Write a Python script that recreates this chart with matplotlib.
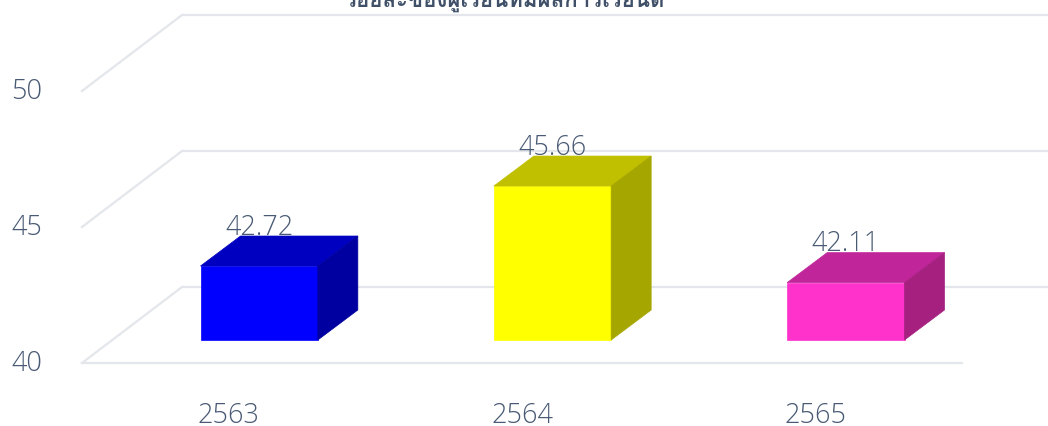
import matplotlib
matplotlib.use("Agg")
import matplotlib.pyplot as plt

# Chart data
categories = ["2563", "2564", "2565"]
values = [42.72, 45.66, 42.11]
y_ticks = [40, 45, 50]
front_colors = ["#0000ff", "#ffff00", "#ff33cc"]
top_colors = ["#0000c0", "#c0c000", "#c02699"]
side_colors = ["#0000a0", "#a6a600", "#a62080"]
title = "ร้อยละของผู้เรียนที่มีผลการเรียนดี"  # best guess: clipped in the reference

W, H = 1048, 426
TEXT = "#495a74"
GRID = "#e3e6ea"
FONT = "Open Sans"
AX_W, AX_H = 880, 272
PX_X = AX_W / 3      # pixels per category
PX_Y = AX_H / 10     # pixels per y unit

fig = plt.figure(figsize=(W / 100, H / 100), dpi=100, facecolor="white")
ax = fig.add_axes([82 / W, (H - 363) / H, AX_W / W, AX_H / H])
ax.set_xlim(-0.5, 2.5)
ax.set_ylim(40, 50)
ax.axis("off")


def ox(px):
    return px / PX_X


def oy(px):
    return px / PX_Y


GRID_DX, GRID_DY = 100, 76
BAR_DX, BAR_DY = 30.5, 23
DEPTH_DX, DEPTH_DY = 40, 30
BAR_W = 0.4
LABEL_KW = dict(color=TEXT, fontsize=19.5, family=FONT, fontweight=300,
                ha="center", va="center", clip_on=False)

# Wall and floor grid lines
for t in y_ticks:
    ax.plot([-0.5 + ox(GRID_DX), 2.5 + ox(GRID_DX)], [t + oy(GRID_DY)] * 2,
            color=GRID, lw=1.6, clip_on=False, zorder=1)
    ax.plot([-0.5, -0.5 + ox(GRID_DX)], [t, t + oy(GRID_DY)],
            color=GRID, lw=1.6, clip_on=False, zorder=1)
    ax.text(-0.5 - ox(55), t - oy(1), str(t), **LABEL_KW)
ax.plot([-0.5, 2.5], [40, 40], color=GRID, lw=1.6, clip_on=False, zorder=1)

# 3D bars
for i, (cat, v) in enumerate(zip(categories, values)):
    x0 = i - BAR_W / 2 + ox(BAR_DX)
    x1 = i + BAR_W / 2 + ox(BAR_DX)
    y0 = 40 + oy(BAR_DY)
    y1 = v + oy(BAR_DY)
    dx, dy = ox(DEPTH_DX), oy(DEPTH_DY)
    ax.fill([x0, x1, x1, x0], [y0, y0, y1, y1], fc=front_colors[i],
            ec=front_colors[i], lw=0.5, zorder=4, clip_on=False)
    ax.fill([x0, x1, x1 + dx, x0 + dx], [y1, y1, y1 + dy, y1 + dy], fc=top_colors[i],
            ec=top_colors[i], lw=0.5, zorder=4, clip_on=False)
    ax.fill([x1, x1 + dx, x1 + dx, x1], [y0, y0 + dy, y1 + dy, y1], fc=side_colors[i],
            ec=side_colors[i], lw=0.5, zorder=4, clip_on=False)
    ax.text(i + ox(BAR_DX), y1 + oy(38.5), f"{v:.2f}", zorder=3, **LABEL_KW)
    ax.text(i, 40 - oy(53), cat, **LABEL_KW)

# Title, cut off by the top edge as in the reference
fig.text(505 / W, 1 - 7 / H, title, color="#3f5068", fontsize=16, family="Loma",
         fontweight="bold", ha="center", va="baseline")

fig.savefig("out.png", dpi=100)
